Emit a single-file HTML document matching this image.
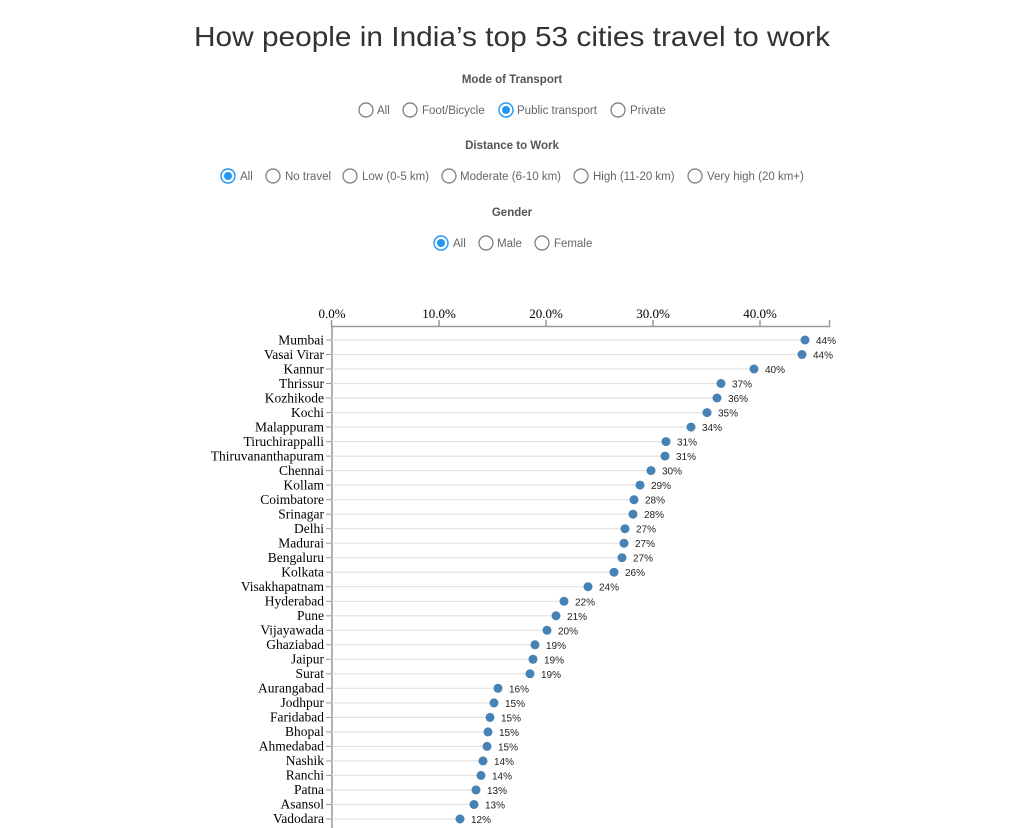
<!DOCTYPE html>
<html><head><meta charset="utf-8"><style>
html,body{margin:0;padding:0;background:#fff;}
svg{display:block;}
.h{font-family:"Liberation Sans",sans-serif;font-size:11.5px;font-weight:bold;fill:#555;text-anchor:middle;}
.o{font-family:"Liberation Sans",sans-serif;font-size:11.5px;fill:#666;}
.c{fill:#fff;stroke:#777;stroke-width:1.2;}
.s{fill:#fff;stroke:#2196f3;stroke-width:1.4;}
.d{fill:#2196f3;}
.n{font-family:"Liberation Serif",serif;font-size:13.5px;fill:#000;text-anchor:end;}
.v{font-family:"Liberation Sans",sans-serif;font-size:10px;fill:#222;}
.t{font-family:"Liberation Serif",serif;font-size:13px;fill:#000;text-anchor:middle;}
.g{stroke:#e2e2e2;stroke-width:1.2;}
.p{fill:#4682b4;}
</style></head><body>
<svg width="1024" height="828" viewBox="0 0 1024 828">
<text x="512" y="46" text-anchor="middle" font-family="Liberation Sans, sans-serif" font-size="28" fill="#333" textLength="636" lengthAdjust="spacingAndGlyphs">How people in India’s top 53 cities travel to work</text>

<text class="h" x="512" y="83">Mode of Transport</text>
<circle class="c" cx="366" cy="110" r="7"/><text class="o" x="377" y="114">All</text>
<circle class="c" cx="410" cy="110" r="7"/><text class="o" x="422" y="114">Foot/Bicycle</text>
<circle class="s" cx="506" cy="110" r="7"/><circle class="d" cx="506" cy="110" r="4"/><text class="o" x="517" y="114">Public transport</text>
<circle class="c" cx="618" cy="110" r="7"/><text class="o" x="630" y="114">Private</text>

<text class="h" x="512" y="149">Distance to Work</text>
<circle class="s" cx="228" cy="176" r="7"/><circle class="d" cx="228" cy="176" r="4"/><text class="o" x="240" y="180">All</text>
<circle class="c" cx="273" cy="176" r="7"/><text class="o" x="285" y="180">No travel</text>
<circle class="c" cx="350" cy="176" r="7"/><text class="o" x="362" y="180">Low (0-5 km)</text>
<circle class="c" cx="449" cy="176" r="7"/><text class="o" x="460" y="180">Moderate (6-10 km)</text>
<circle class="c" cx="581" cy="176" r="7"/><text class="o" x="593" y="180">High (11-20 km)</text>
<circle class="c" cx="695" cy="176" r="7"/><text class="o" x="707" y="180">Very high (20 km+)</text>

<text class="h" x="512" y="216">Gender</text>
<circle class="s" cx="441" cy="243" r="7"/><circle class="d" cx="441" cy="243" r="4"/><text class="o" x="453" y="247">All</text>
<circle class="c" cx="486" cy="243" r="7"/><text class="o" x="497" y="247">Male</text>
<circle class="c" cx="542" cy="243" r="7"/><text class="o" x="554" y="247">Female</text>

<path d="M331.5 320 V326.5 H829.5 V320 M439 326 V320 M546 326 V320 M653 326 V320 M760 326 V320" fill="none" stroke="#999" stroke-width="1.5"/>
<line x1="332" y1="326" x2="332" y2="828" stroke="#999" stroke-width="1.5"/>
<text class="t" x="332" y="318">0.0%</text>
<text class="t" x="439" y="318">10.0%</text>
<text class="t" x="546" y="318">20.0%</text>
<text class="t" x="653" y="318">30.0%</text>
<text class="t" x="760" y="318">40.0%</text>

<g>
<line class="g" x1="332" y1="340" x2="805" y2="340"/><line x1="326" y1="340" x2="332" y2="340" stroke="#999"/><circle class="p" cx="805" cy="340" r="4.5"/><text class="n" x="324" y="344.5">Mumbai</text><text class="v" x="816" y="344">44%</text>
<line class="g" x1="332" y1="354.5" x2="802" y2="354.5"/><line x1="326" y1="354.5" x2="332" y2="354.5" stroke="#999"/><circle class="p" cx="802" cy="354.5" r="4.5"/><text class="n" x="324" y="359">Vasai Virar</text><text class="v" x="813" y="358.5">44%</text>
<line class="g" x1="332" y1="369" x2="754" y2="369"/><line x1="326" y1="369" x2="332" y2="369" stroke="#999"/><circle class="p" cx="754" cy="369" r="4.5"/><text class="n" x="324" y="373.5">Kannur</text><text class="v" x="765" y="373">40%</text>
<line class="g" x1="332" y1="383.5" x2="721" y2="383.5"/><line x1="326" y1="383.5" x2="332" y2="383.5" stroke="#999"/><circle class="p" cx="721" cy="383.5" r="4.5"/><text class="n" x="324" y="388">Thrissur</text><text class="v" x="732" y="387.5">37%</text>
<line class="g" x1="332" y1="398" x2="717" y2="398"/><line x1="326" y1="398" x2="332" y2="398" stroke="#999"/><circle class="p" cx="717" cy="398" r="4.5"/><text class="n" x="324" y="402.5">Kozhikode</text><text class="v" x="728" y="402">36%</text>
<line class="g" x1="332" y1="412.6" x2="707" y2="412.6"/><line x1="326" y1="412.6" x2="332" y2="412.6" stroke="#999"/><circle class="p" cx="707" cy="412.6" r="4.5"/><text class="n" x="324" y="417">Kochi</text><text class="v" x="718" y="416.6">35%</text>
<line class="g" x1="332" y1="427.1" x2="691" y2="427.1"/><line x1="326" y1="427.1" x2="332" y2="427.1" stroke="#999"/><circle class="p" cx="691" cy="427.1" r="4.5"/><text class="n" x="324" y="431.5">Malappuram</text><text class="v" x="702" y="431">34%</text>
<line class="g" x1="332" y1="441.6" x2="666" y2="441.6"/><line x1="326" y1="441.6" x2="332" y2="441.6" stroke="#999"/><circle class="p" cx="666" cy="441.6" r="4.5"/><text class="n" x="324" y="446">Tiruchirappalli</text><text class="v" x="677" y="445.6">31%</text>
<line class="g" x1="332" y1="456.1" x2="665" y2="456.1"/><line x1="326" y1="456.1" x2="332" y2="456.1" stroke="#999"/><circle class="p" cx="665" cy="456.1" r="4.5"/><text class="n" x="324" y="460.5">Thiruvananthapuram</text><text class="v" x="676" y="460">31%</text>
<line class="g" x1="332" y1="470.6" x2="651" y2="470.6"/><line x1="326" y1="470.6" x2="332" y2="470.6" stroke="#999"/><circle class="p" cx="651" cy="470.6" r="4.5"/><text class="n" x="324" y="475">Chennai</text><text class="v" x="662" y="474.6">30%</text>
<line class="g" x1="332" y1="485.1" x2="640" y2="485.1"/><line x1="326" y1="485.1" x2="332" y2="485.1" stroke="#999"/><circle class="p" cx="640" cy="485.1" r="4.5"/><text class="n" x="324" y="489.5">Kollam</text><text class="v" x="651" y="489">29%</text>
<line class="g" x1="332" y1="499.7" x2="634" y2="499.7"/><line x1="326" y1="499.7" x2="332" y2="499.7" stroke="#999"/><circle class="p" cx="634" cy="499.7" r="4.5"/><text class="n" x="324" y="504">Coimbatore</text><text class="v" x="645" y="503.7">28%</text>
<line class="g" x1="332" y1="514.2" x2="633" y2="514.2"/><line x1="326" y1="514.2" x2="332" y2="514.2" stroke="#999"/><circle class="p" cx="633" cy="514.2" r="4.5"/><text class="n" x="324" y="518.5">Srinagar</text><text class="v" x="644" y="518">28%</text>
<line class="g" x1="332" y1="528.7" x2="625" y2="528.7"/><line x1="326" y1="528.7" x2="332" y2="528.7" stroke="#999"/><circle class="p" cx="625" cy="528.7" r="4.5"/><text class="n" x="324" y="533">Delhi</text><text class="v" x="636" y="532.7">27%</text>
<line class="g" x1="332" y1="543.2" x2="624" y2="543.2"/><line x1="326" y1="543.2" x2="332" y2="543.2" stroke="#999"/><circle class="p" cx="624" cy="543.2" r="4.5"/><text class="n" x="324" y="547.5">Madurai</text><text class="v" x="635" y="547">27%</text>
<line class="g" x1="332" y1="557.7" x2="622" y2="557.7"/><line x1="326" y1="557.7" x2="332" y2="557.7" stroke="#999"/><circle class="p" cx="622" cy="557.7" r="4.5"/><text class="n" x="324" y="562">Bengaluru</text><text class="v" x="633" y="561.7">27%</text>
<line class="g" x1="332" y1="572.2" x2="614" y2="572.2"/><line x1="326" y1="572.2" x2="332" y2="572.2" stroke="#999"/><circle class="p" cx="614" cy="572.2" r="4.5"/><text class="n" x="324" y="576.5">Kolkata</text><text class="v" x="625" y="576">26%</text>
<line class="g" x1="332" y1="586.7" x2="588" y2="586.7"/><line x1="326" y1="586.7" x2="332" y2="586.7" stroke="#999"/><circle class="p" cx="588" cy="586.7" r="4.5"/><text class="n" x="324" y="591">Visakhapatnam</text><text class="v" x="599" y="590.7">24%</text>
<line class="g" x1="332" y1="601.3" x2="564" y2="601.3"/><line x1="326" y1="601.3" x2="332" y2="601.3" stroke="#999"/><circle class="p" cx="564" cy="601.3" r="4.5"/><text class="n" x="324" y="605.5">Hyderabad</text><text class="v" x="575" y="605.3">22%</text>
<line class="g" x1="332" y1="615.8" x2="556" y2="615.8"/><line x1="326" y1="615.8" x2="332" y2="615.8" stroke="#999"/><circle class="p" cx="556" cy="615.8" r="4.5"/><text class="n" x="324" y="620">Pune</text><text class="v" x="567" y="619.8">21%</text>
<line class="g" x1="332" y1="630.3" x2="547" y2="630.3"/><line x1="326" y1="630.3" x2="332" y2="630.3" stroke="#999"/><circle class="p" cx="547" cy="630.3" r="4.5"/><text class="n" x="324" y="634.5">Vijayawada</text><text class="v" x="558" y="634.3">20%</text>
<line class="g" x1="332" y1="644.8" x2="535" y2="644.8"/><line x1="326" y1="644.8" x2="332" y2="644.8" stroke="#999"/><circle class="p" cx="535" cy="644.8" r="4.5"/><text class="n" x="324" y="649">Ghaziabad</text><text class="v" x="546" y="648.8">19%</text>
<line class="g" x1="332" y1="659.3" x2="533" y2="659.3"/><line x1="326" y1="659.3" x2="332" y2="659.3" stroke="#999"/><circle class="p" cx="533" cy="659.3" r="4.5"/><text class="n" x="324" y="663.5">Jaipur</text><text class="v" x="544" y="663.3">19%</text>
<line class="g" x1="332" y1="673.8" x2="530" y2="673.8"/><line x1="326" y1="673.8" x2="332" y2="673.8" stroke="#999"/><circle class="p" cx="530" cy="673.8" r="4.5"/><text class="n" x="324" y="678">Surat</text><text class="v" x="541" y="677.8">19%</text>
<line class="g" x1="332" y1="688.3" x2="498" y2="688.3"/><line x1="326" y1="688.3" x2="332" y2="688.3" stroke="#999"/><circle class="p" cx="498" cy="688.3" r="4.5"/><text class="n" x="324" y="692.5">Aurangabad</text><text class="v" x="509" y="692.3">16%</text>
<line class="g" x1="332" y1="702.9" x2="494" y2="702.9"/><line x1="326" y1="702.9" x2="332" y2="702.9" stroke="#999"/><circle class="p" cx="494" cy="702.9" r="4.5"/><text class="n" x="324" y="707">Jodhpur</text><text class="v" x="505" y="706.9">15%</text>
<line class="g" x1="332" y1="717.4" x2="490" y2="717.4"/><line x1="326" y1="717.4" x2="332" y2="717.4" stroke="#999"/><circle class="p" cx="490" cy="717.4" r="4.5"/><text class="n" x="324" y="721.5">Faridabad</text><text class="v" x="501" y="721.4">15%</text>
<line class="g" x1="332" y1="731.9" x2="488" y2="731.9"/><line x1="326" y1="731.9" x2="332" y2="731.9" stroke="#999"/><circle class="p" cx="488" cy="731.9" r="4.5"/><text class="n" x="324" y="736">Bhopal</text><text class="v" x="499" y="735.9">15%</text>
<line class="g" x1="332" y1="746.4" x2="487" y2="746.4"/><line x1="326" y1="746.4" x2="332" y2="746.4" stroke="#999"/><circle class="p" cx="487" cy="746.4" r="4.5"/><text class="n" x="324" y="750.5">Ahmedabad</text><text class="v" x="498" y="750.4">15%</text>
<line class="g" x1="332" y1="760.9" x2="483" y2="760.9"/><line x1="326" y1="760.9" x2="332" y2="760.9" stroke="#999"/><circle class="p" cx="483" cy="760.9" r="4.5"/><text class="n" x="324" y="765">Nashik</text><text class="v" x="494" y="764.9">14%</text>
<line class="g" x1="332" y1="775.4" x2="481" y2="775.4"/><line x1="326" y1="775.4" x2="332" y2="775.4" stroke="#999"/><circle class="p" cx="481" cy="775.4" r="4.5"/><text class="n" x="324" y="779.5">Ranchi</text><text class="v" x="492" y="779.4">14%</text>
<line class="g" x1="332" y1="789.9" x2="476" y2="789.9"/><line x1="326" y1="789.9" x2="332" y2="789.9" stroke="#999"/><circle class="p" cx="476" cy="789.9" r="4.5"/><text class="n" x="324" y="794">Patna</text><text class="v" x="487" y="793.9">13%</text>
<line class="g" x1="332" y1="804.5" x2="474" y2="804.5"/><line x1="326" y1="804.5" x2="332" y2="804.5" stroke="#999"/><circle class="p" cx="474" cy="804.5" r="4.5"/><text class="n" x="324" y="808.5">Asansol</text><text class="v" x="485" y="808.5">13%</text>
<line class="g" x1="332" y1="819" x2="460" y2="819"/><line x1="326" y1="819" x2="332" y2="819" stroke="#999"/><circle class="p" cx="460" cy="819" r="4.5"/><text class="n" x="324" y="823">Vadodara</text><text class="v" x="471" y="823">12%</text>
</g>
</svg>
</body></html>
